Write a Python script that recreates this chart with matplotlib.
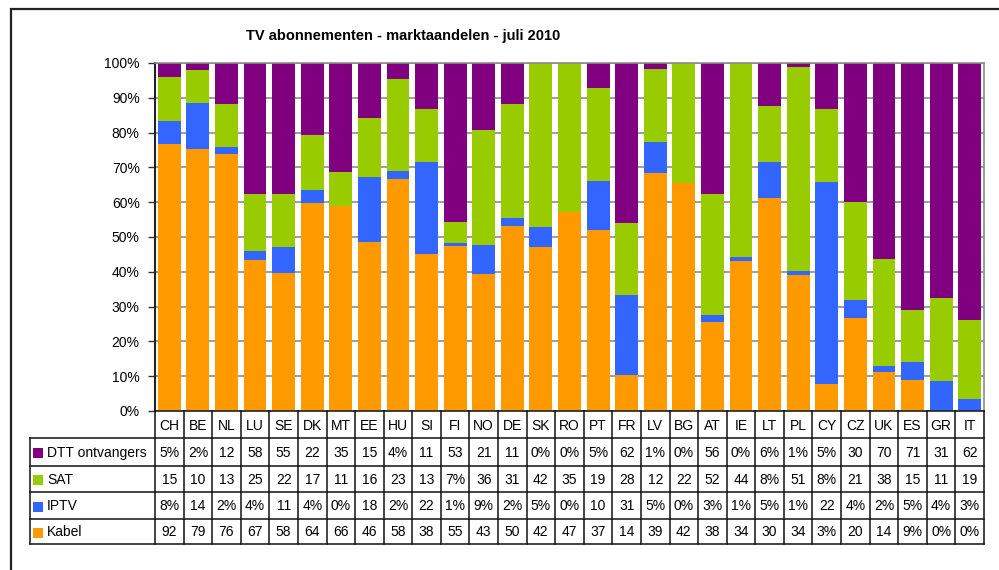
import matplotlib.pyplot as plt
import numpy as np
from matplotlib.ticker import MultipleLocator, PercentFormatter

plt.rcParams['font.family'] = ['Liberation Sans', 'DejaVu Sans']

countries = ['CH', 'BE', 'NL', 'LU', 'SE', 'DK', 'MT', 'EE', 'HU', 'SI', 'FI', 'NO', 'DE', 'SK',
             'RO', 'PT', 'FR', 'LV', 'BG', 'AT', 'IE', 'LT', 'PL', 'CY', 'CZ', 'UK', 'ES', 'GR', 'IT']

# cell texts of the data table (the bars are stacked from these numbers)
dtt = ['5%', '2%', '12', '58', '55', '22', '35', '15', '4%', '11', '53', '21', '11', '0%',
       '0%', '5%', '62', '1%', '0%', '56', '0%', '6%', '1%', '5%', '30', '70', '71', '31', '62']
sat = ['15', '10', '13', '25', '22', '17', '11', '16', '23', '13', '7%', '36', '31', '42',
       '35', '19', '28', '12', '22', '52', '44', '8%', '51', '8%', '21', '38', '15', '11', '19']
iptv = ['8%', '14', '2%', '4%', '11', '4%', '0%', '18', '2%', '22', '1%', '9%', '2%', '5%',
        '0%', '10', '31', '5%', '0%', '3%', '1%', '5%', '1%', '22', '4%', '2%', '5%', '4%', '3%']
kabel = ['92', '79', '76', '67', '58', '64', '66', '46', '58', '38', '55', '43', '50', '42',
         '47', '37', '14', '39', '42', '38', '34', '30', '34', '3%', '20', '14', '9%', '0%', '0%']

series_names = ['DTT ontvangers', 'SAT', 'IPTV', 'Kabel']
series_cells = [dtt, sat, iptv, kabel]
series_colors = ['#800080', '#99CC00', '#3366FF', '#FF9900']

W, H = 999, 570
fig = plt.figure(figsize=(W / 100, H / 100), dpi=100)


def box(x0, y0, x1, y1):
    # pixel box (top-left origin) -> figure fraction rect
    return [x0 / W, 1 - y1 / H, (x1 - x0) / W, (y1 - y0) / H]


# chart frame
fig.add_artist(plt.Rectangle((11 / W, -0.1), 1.2, 1 - 9 / H + 0.1, transform=fig.transFigure,
                             fill=False, lw=1.6, ec='#222222'))

fig.text(403 / W, 1 - 36 / H, 'TV abonnementen - marktaandelen - juli 2010',
         ha='center', va='center', fontsize=10.5, fontweight='bold')

# --- stacked 100% bars
ax = fig.add_axes(box(155, 63, 984, 411))
n = len(countries)
x = np.arange(n)
values = [np.array([float(s.rstrip('%')) for s in cells]) for cells in series_cells]
total = np.sum(values, axis=0)
bottom = np.zeros(n)
for v, c in reversed(list(zip(values, series_colors))):
    share = v / total * 100
    ax.bar(x, share, width=0.8, bottom=bottom, color=c, lw=0, zorder=2)
    bottom += share

ax.set_xlim(-0.5, n - 0.5)
ax.set_ylim(0, 100)
ax.yaxis.set_major_locator(MultipleLocator(10))
ax.yaxis.set_major_formatter(PercentFormatter(decimals=0))
ax.set_xticks([])
ax.grid(axis='y', color='#8c8c8c', lw=1.2, zorder=1)
ax.tick_params(axis='y', length=5, width=1, labelsize=10, pad=6, color='#333333')
for side in ['top', 'right']:
    ax.spines[side].set_color('#8c8c8c')
    ax.spines[side].set_linewidth(1.2)
ax.spines['left'].set_color('#222222')
ax.spines['left'].set_linewidth(1.5)
ax.spines['bottom'].set_color('#222222')
ax.spines['bottom'].set_linewidth(1.2)

# --- data table below the plot
tab = fig.add_axes([0, 0, 1, 1])
tab.set_xlim(0, W)
tab.set_ylim(H, 0)
tab.axis('off')

left, x0, x1 = 30, 155, 984
edges = np.linspace(x0, x1, n + 1)
rows_y = [411, 438, 466, 492, 519, 544]
line_kw = dict(color='#111111', lw=1.1)

for e in edges:
    tab.plot([e, e], [rows_y[0], rows_y[-1]], **line_kw)
for ry in rows_y[1:]:
    tab.plot([left, x1], [ry, ry], **line_kw)
tab.plot([left, left], [rows_y[1], rows_y[-1]], **line_kw)

centers = (edges[:-1] + edges[1:]) / 2
for cx, name in zip(centers, countries):
    tab.text(cx, (rows_y[0] + rows_y[1]) / 2 + 1, name, ha='center', va='center', fontsize=10)

for r, (name, cells, c) in enumerate(zip(series_names, series_cells, series_colors)):
    yc = (rows_y[r + 1] + rows_y[r + 2]) / 2 + 1
    tab.add_patch(plt.Rectangle((33, yc - 5), 10, 10, color=c, lw=0))
    tab.text(47, yc, name, ha='left', va='center', fontsize=10)
    for cx, s in zip(centers, cells):
        tab.text(cx, yc, s, ha='center', va='center', fontsize=10)

fig.savefig('out.png', dpi=100)
